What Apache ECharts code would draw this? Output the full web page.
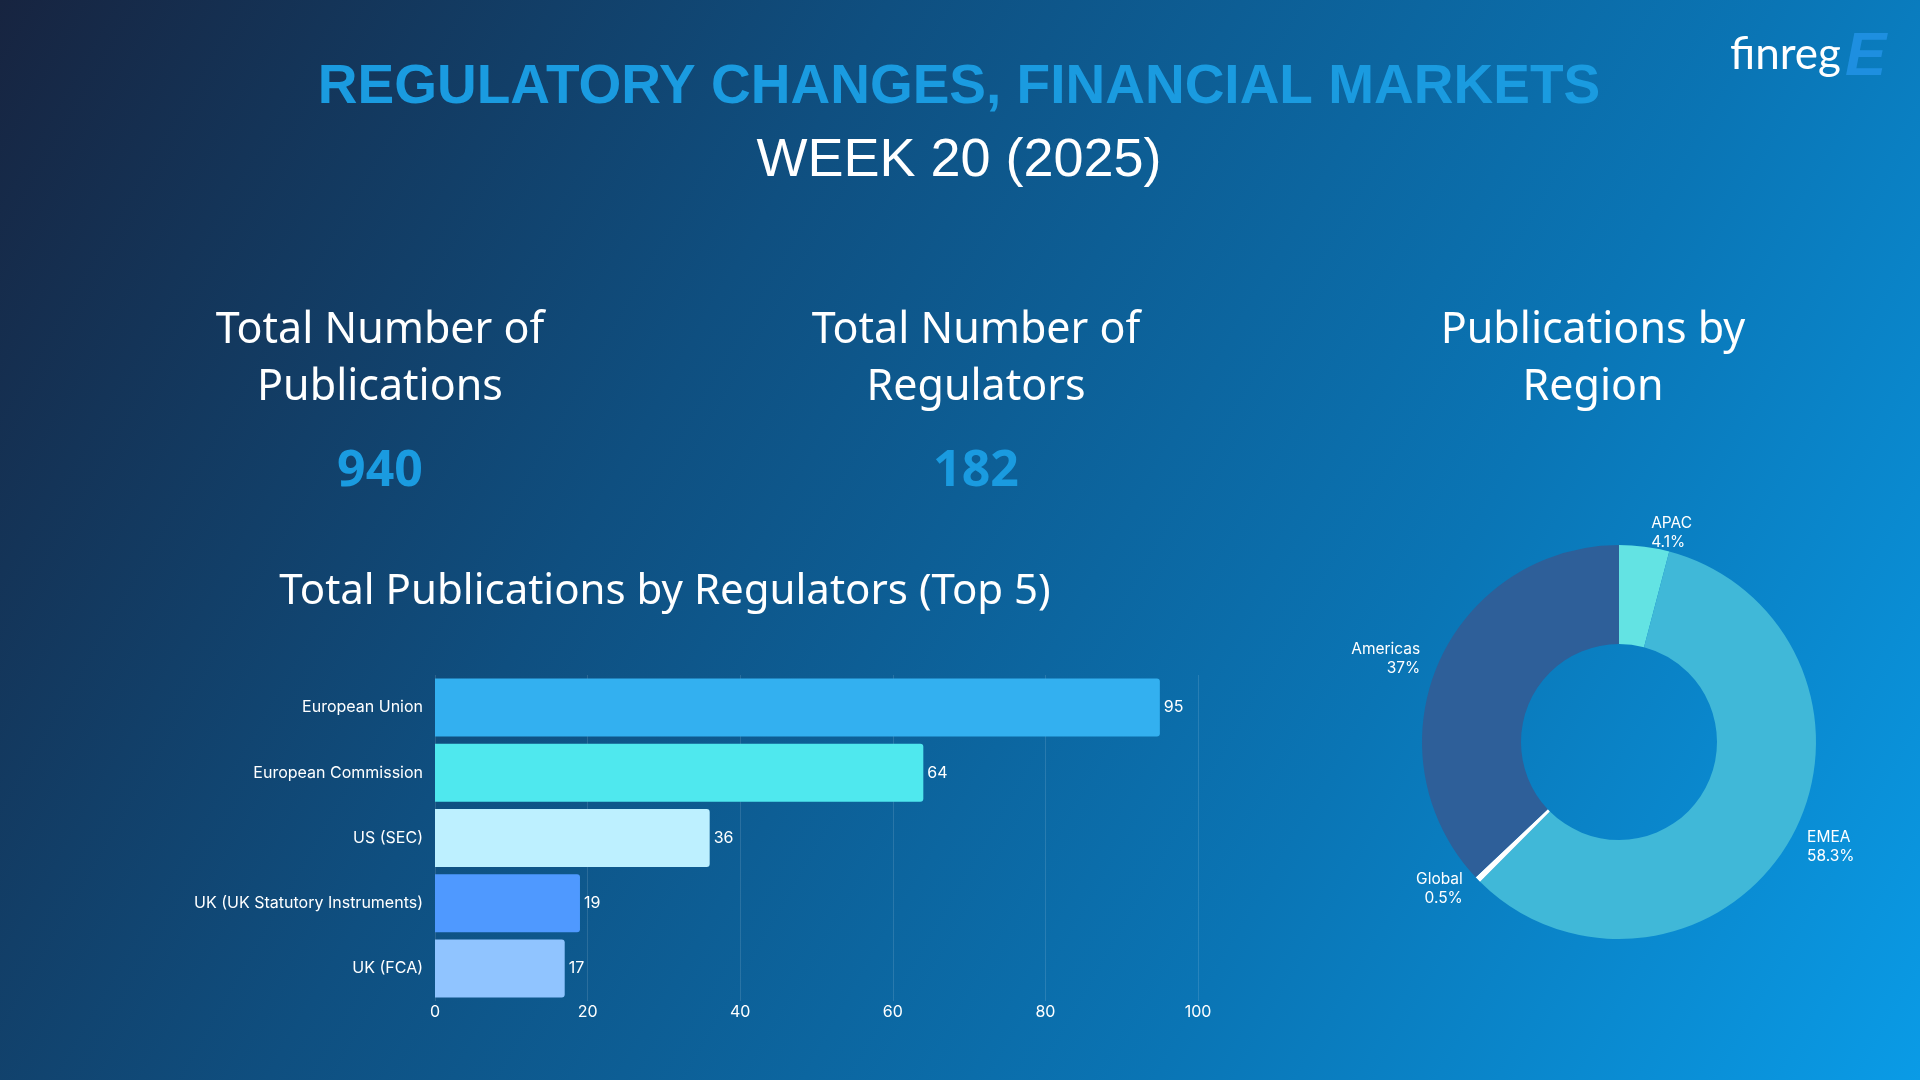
<!DOCTYPE html>
<html><head><meta charset="utf-8">
<script src="https://cdn.jsdelivr.net/npm/echarts@6/dist/echarts.min.js"></script>
<style>
html,body{margin:0;width:1920px;height:1080px;overflow:hidden;background:linear-gradient(120deg,#172440 0%,#0f4f80 35%,#0a75b5 70%,#0a9be6 100%);}
#c{width:1920px;height:1080px;}
</style></head><body><div id="c"></div>
<script>
const regulators = ['European Union','European Commission','US (SEC)','UK (UK Statutory Instruments)','UK (FCA)'];
const publications = [95,64,36,19,17];
const barColors = ['#33b0f0','#4fe8ee','#bdf0ff','#4f99ff','#90c4ff'];
const regions = ['APAC','EMEA','Global','Americas'];
const regionShare = [4.1,58.3,0.5,37];
const regionColors = ['#63e3e3','#40b8d8','#ffffff','#2e5f99'];
const totalPublications = '940';
const totalRegulators = '182';

const chart = echarts.init(document.getElementById('c'));
const heading = {fill:'#fff',fontFamily:'Noto Sans',fontSize:43,textAlign:'center'};
function t(x,y,text,st){return {type:'text',x:x,y:y,style:Object.assign({text:text,textVerticalAlign:'middle'},st)};}
chart.setOption({
  graphic:[
    t(959,88,'REGULATORY CHANGES, FINANCIAL MARKETS',{fill:'#1a9be0',fontFamily:'Liberation Sans',fontWeight:'bold',fontSize:55,textAlign:'center'}),
    t(959,161,'WEEK 20 (2025)',{fill:'#fff',fontFamily:'Liberation Sans',fontSize:54,textAlign:'center'}),
    t(1730,55,'finreg',{fill:'#fff',fontFamily:'Lato',fontSize:44,textAlign:'left'}),
    t(1845,58,'E',{fill:'#1e8fe0',fontFamily:'Liberation Sans',fontWeight:'bold',fontStyle:'italic',fontSize:62,textAlign:'left'}),
    t(380,331,'Total Number of',heading),t(380,388,'Publications',heading),
    t(976,331,'Total Number of',heading),t(976,388,'Regulators',heading),
    t(1593,331,'Publications by',heading),t(1593,388,'Region',heading),
    t(380,472,totalPublications,{fill:'#1a9be0',fontFamily:'Noto Sans',fontWeight:'bold',fontSize:50,textAlign:'center'}),
    t(976,472,totalRegulators,{fill:'#1a9be0',fontFamily:'Noto Sans',fontWeight:'bold',fontSize:50,textAlign:'center'}),
    t(665,592,'Total Publications by Regulators (Top 5)',Object.assign({},heading,{fontSize:42}))
  ],
  grid:{left:435,right:722,top:675,height:326},
  xAxis:{type:'value',min:0,max:100,interval:20,axisLine:{show:false},axisTick:{show:false},
    axisLabel:{color:'#fff',fontFamily:'Inter',fontSize:16,margin:3},
    splitLine:{lineStyle:{color:'rgba(255,255,255,0.12)'}}},
  yAxis:{type:'category',inverse:true,data:regulators,axisLine:{show:false},axisTick:{show:false},
    axisLabel:{color:'#fff',fontFamily:'Inter',fontSize:16,margin:12}},
  series:[
    {type:'bar',data:publications.map((v,i)=>({value:v,itemStyle:{color:barColors[i]}})),
     barWidth:58,itemStyle:{borderRadius:[0,3,3,0]},
     label:{show:true,position:'right',color:'#fff',fontFamily:'Inter',fontSize:16,distance:4}},
    {type:'pie',center:[1619,742],radius:[98,197],startAngle:90,clockwise:true,
     data:regions.map((n,i)=>({name:n,value:regionShare[i],itemStyle:{color:regionColors[i]}})),
     label:{show:true,position:'outside',color:'#fff',fontFamily:'Inter',fontSize:15.5,lineHeight:19,
       formatter:p=>p.name+'\n'+p.value+'%',align:'center'},
     labelLine:{show:false,length:14,length2:0},emphasis:{disabled:true}}
  ]
});
</script></body></html>
